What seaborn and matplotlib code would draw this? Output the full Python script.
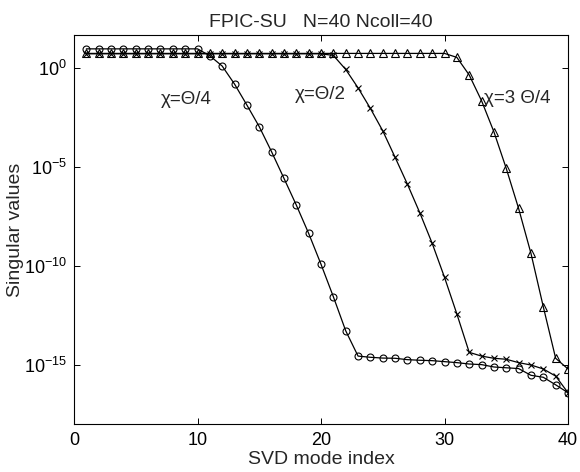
import numpy as np
import pandas as pd
import matplotlib
matplotlib.use("Agg")
import matplotlib.pyplot as plt
import seaborn as sns
from matplotlib.ticker import FixedLocator, FixedFormatter

# ---- data (log10 of singular values) ----
mode_index = list(range(1, 41))

log_sv_theta_quarter = [0.95] * 10 + [
    0.60, 0.08, -0.83, -1.89, -2.98, -4.25, -5.59, -6.94, -8.37, -9.93,
    -11.57, -13.29, -14.57, -14.63, -14.67, -14.68, -14.75, -14.78, -14.80, -14.85,
    -14.90, -14.97, -15.00, -15.12, -15.16, -15.20, -15.54, -15.64, -16.02, -16.42]

log_sv_theta_half = [0.70] * 20 + [
    0.62, -0.09, -1.02, -2.06, -3.19, -4.53, -5.89, -7.33, -8.87, -10.59,
    -12.44, -14.38, -14.57, -14.68, -14.73, -14.90, -15.02, -15.22, -15.58, -16.42]

log_sv_theta_3quarter = [0.72] * 30 + [
    0.52, -0.37, -1.67, -3.24, -5.09, -7.11, -9.38, -12.08, -14.68, -15.22]

series_labels = [r"χ=Θ/4", r"χ=Θ/2", r"χ=3 Θ/4"]
label_pos_x = [7.0, 17.9, 33.2]
label_pos_log_y = [-1.6, -1.35, -1.58]

title_text = "FPIC-SU   N=40 Ncoll=40"
x_label = "SVD mode index"
y_label = "Singular values"
x_ticks = [0, 10, 20, 30, 40]
y_tick_exponents = [0, -5, -10, -15]
y_limits_log = (-18, 1.65)

# ---- style ----
sns.set_style("ticks")
plt.rcParams["font.family"] = ["Liberation Sans", "DejaVu Sans"]
plt.rcParams["mathtext.fontset"] = "custom"
plt.rcParams["mathtext.rm"] = "Liberation Sans"
plt.rcParams["mathtext.it"] = "Liberation Sans:italic"
plt.rcParams["mathtext.bf"] = "Liberation Sans:bold"
plt.rcParams["mathtext.default"] = "regular"

df = pd.concat([
    pd.DataFrame({"mode": mode_index, "sv": 10.0 ** np.array(log_sv_theta_quarter), "case": series_labels[0]}),
    pd.DataFrame({"mode": mode_index, "sv": 10.0 ** np.array(log_sv_theta_half), "case": series_labels[1]}),
    pd.DataFrame({"mode": mode_index, "sv": 10.0 ** np.array(log_sv_theta_3quarter), "case": series_labels[2]}),
])

fig = plt.figure(figsize=(5.8, 4.72), dpi=100)
ax = fig.add_axes([74 / 580, 48 / 472, 494 / 580, 389 / 472])

markers = {series_labels[0]: ("o", 5.0), series_labels[1]: ("x", 4.0), series_labels[2]: ("^", 5.2)}
for lab in series_labels:
    m, ms = markers[lab]
    sub = df[df["case"] == lab]
    sns.lineplot(data=sub, x="mode", y="sv", ax=ax, color="black", lw=0.9,
                 marker=m, markersize=ms, markerfacecolor="none" if m != "x" else "black",
                 markeredgecolor="black", markeredgewidth=0.8, legend=False)

ax.set_yscale("log")
ax.set_xlim(0, 40)
ax.set_ylim(10.0 ** y_limits_log[0], 10.0 ** y_limits_log[1])

ax.xaxis.set_major_locator(FixedLocator(x_ticks))
ax.set_xticklabels([str(t) for t in x_ticks])
ax.yaxis.set_major_locator(FixedLocator([10.0 ** e for e in y_tick_exponents]))
ax.yaxis.set_major_formatter(FixedFormatter([r"$10^{%d}$" % e for e in y_tick_exponents]))
ax.yaxis.set_minor_locator(FixedLocator([]))

ax.tick_params(axis="both", which="both", direction="in", top=True, right=True,
               length=4, width=0.7, labelsize=13, colors="black")
ax.tick_params(axis="x", pad=6)
ax.tick_params(axis="y", pad=5)
for s in ax.spines.values():
    s.set_linewidth(0.8)
    s.set_color("black")

ax.set_xlabel(x_label, fontsize=14, labelpad=1)
ax.set_ylabel(y_label, fontsize=14, labelpad=0)
ax.set_title(title_text, fontsize=14, pad=6)

for lab, tx, ty in zip(series_labels, label_pos_x, label_pos_log_y):
    ax.text(tx, 10.0 ** ty, lab, fontsize=13.5, ha="left", va="center")

fig.savefig("out.png", dpi=100)
